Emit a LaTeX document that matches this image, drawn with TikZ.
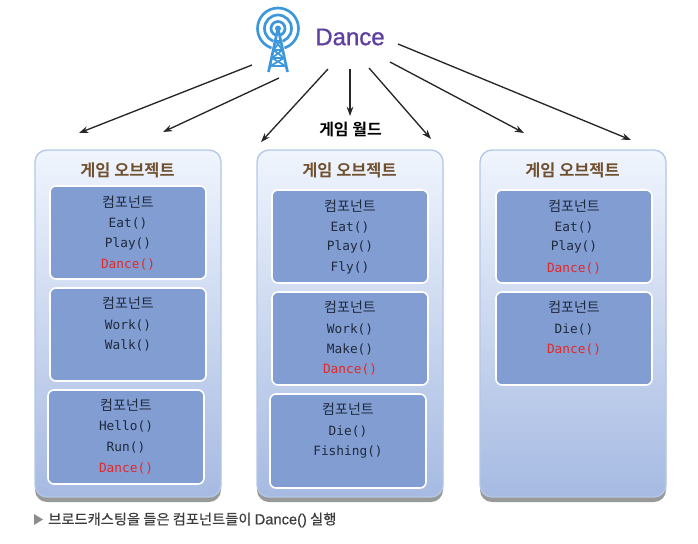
\documentclass[tikz,border=0pt]{standalone}
\usepackage{fontspec}
\setmainfont{Liberation Sans}
\newfontfamily\krfont{Noto Sans CJK KR}[BoldFont={Noto Sans CJK KR Bold}]
\newfontfamily\krmedium{Noto Sans CJK KR}[FakeBold=0.5]
\newfontfamily\latinmedium{Liberation Sans}[FakeBold=0.5]
\newfontfamily\dancefont{Liberation Sans}[FakeBold=1]
\newfontfamily\codefont{DejaVu Sans Mono}
\usetikzlibrary{arrows.meta,positioning}
\definecolor{titlebrown}{HTML}{70502F}
\definecolor{innerblue}{HTML}{819DD2}
\definecolor{outerline}{HTML}{B5C7E6}
\definecolor{outertop}{HTML}{F0F5FD}
\definecolor{outerbot}{HTML}{A6BAE2}
\definecolor{iconblue}{HTML}{3D97DC}
\definecolor{dancepurple}{HTML}{5F3F9F}
\definecolor{codedark}{HTML}{1F2A3D}
\definecolor{codered}{HTML}{E02A2A}
\definecolor{caption}{HTML}{3C3C3C}
\tikzset{
  x=0.75pt,y=-0.75pt,
  outerbox/.style={rounded corners=9pt,draw=outerline,line width=1pt,top color=outertop,bottom color=outerbot},
  shadowbox/.style={rounded corners=9pt,fill=black!40,draw=none},
  innerbox/.style={rounded corners=4.5pt,draw=white,line width=1.2pt,fill=innerblue},
  boxtitle/.style={font=\krfont\bfseries\fontsize{12.3}{14}\selectfont,text=titlebrown,inner sep=0pt},
  comphead/.style={font=\krfont\fontsize{10.5}{12}\selectfont,text=codedark,inner sep=0pt,yshift=-0.4pt},
  code/.style={font=\codefont\fontsize{9.6}{11}\selectfont,text=codedark,inner sep=0pt,yshift=-0.75pt},
  codehot/.style={code,text=codered},
  wire/.style={draw=black!85,line width=1pt,-{Stealth[length=7pt,width=5pt]}},
  ring/.style={draw=iconblue,line width=2pt},
  tower/.style={draw=iconblue,line width=1.3pt,line join=round}
}
\begin{document}
\begin{tikzpicture}
\useasboundingbox (0,0) rectangle (698,543);
% icon
\draw[ring] (278,28.5) circle (20.5);
\draw[ring] (278,28.5) circle (13.5);
\draw[ring] (278,28.5) circle (7);
\fill[white] (278,26) -- (264,74) -- (292,74) -- cycle;
\draw[tower,line width=2pt] (278,28) -- (268.5,72) (278,28) -- (287.5,72);
\draw[tower] (273.5,50) -- (282.5,50) (272,58) -- (284,58) (270.5,66) -- (285.5,66)
  (275.5,41) -- (280.5,41)
  (273.5,50) -- (284,58) (282.5,50) -- (272,58) (272,58) -- (285.5,66) (284,58) -- (270.5,66)
  (275.5,41) -- (282.5,50) (280.5,41) -- (273.5,50);
\fill[iconblue] (278,28.5) circle (3);
\node[font=\dancefont\fontsize{18}{20}\selectfont,text=dancepurple,inner sep=0pt] (dance) at (350,37) {Dance};
\node[font=\krfont\bfseries\fontsize{12}{14}\selectfont,text=black,inner sep=0pt] (world) at (350.5,129) {게임 월드};
% arrow ends
\coordinate (s1) at (252,65); \coordinate (t1) at (79,133);
\coordinate (s2) at (279,78); \coordinate (t2) at (163,132);
\coordinate (s3) at (328,69); \coordinate (t3) at (261,142);
\coordinate (s4) at (350,69); \coordinate (t4) at (350,116);
\coordinate (s5) at (369,68); \coordinate (t5) at (431,139);
\coordinate (s6) at (390,62); \coordinate (t6) at (524,133);
\coordinate (s7) at (398,44); \coordinate (t7) at (631,140);
\foreach \i in {1,...,7} \draw[wire] (s\i) -- (t\i);
% outer boxes
\foreach \x in {35,257,480}{
  \fill[shadowbox] (\x,156) rectangle (\x+186,502);
  \path[outerbox] (\x,150) rectangle (\x+186,497);
}
% column 1
\node[boxtitle] (o1) at (127.5,170) {게임 오브젝트};
\draw[innerbox] (50,186) rectangle (206,279);
\draw[innerbox] (50,288) rectangle (206,381);
\draw[innerbox] (48,390) rectangle (204,484);
\node[comphead] (a1) at (128,202) {컴포넌트};
\node[code] (a2) at (128,222) {Eat()};
\node[code] (a3) at (128,243) {Play()};
\node[codehot] (a4) at (128,263) {Dance()};
\node[comphead] (b1) at (128,303) {컴포넌트};
\node[code] (b2) at (128,324) {Work()};
\node[code] (b3) at (128,344) {Walk()};
\node[comphead] (c1) at (126,405) {컴포넌트};
\node[code] (c2) at (126,425) {Hello()};
\node[code] (c3) at (126,446) {Run()};
\node[codehot] (c4) at (126,467) {Dance()};
% column 2
\node[boxtitle] (o2) at (349.5,170) {게임 오브젝트};
\draw[innerbox] (272,190) rectangle (428,283);
\draw[innerbox] (272,292) rectangle (428,385);
\draw[innerbox] (270,394) rectangle (426,488);
\node[comphead] (d1) at (350,206) {컴포넌트};
\node[code] (d2) at (350,226) {Eat()};
\node[code] (d3) at (350,246) {Play()};
\node[code] (d4) at (350,267) {Fly()};
\node[comphead] (e1) at (350,307) {컴포넌트};
\node[code] (e2) at (350,328) {Work()};
\node[code] (e3) at (350,348) {Make()};
\node[codehot] (e4) at (350,368) {Dance()};
\node[comphead] (f1) at (348,409) {컴포넌트};
\node[code] (f2) at (348,430) {Die()};
\node[code] (f3) at (348,451) {Fishing()};
% column 3
\node[boxtitle] (o3) at (572.5,170) {게임 오브젝트};
\draw[innerbox] (496,190) rectangle (652,283);
\draw[innerbox] (496,292) rectangle (652,385);
\node[comphead] (g1) at (574,206) {컴포넌트};
\node[code] (g2) at (574,226) {Eat()};
\node[code] (g3) at (574,246) {Play()};
\node[codehot] (g4) at (574,267) {Dance()};
\node[comphead] (h1) at (574,307) {컴포넌트};
\node[code] (h2) at (574,328) {Die()};
\node[codehot] (h3) at (574,348) {Dance()};
% caption
\fill[black!45] (34,514) -- (43,519.5) -- (34,525) -- cycle;
\node[anchor=west,inner sep=0pt,text=caption,font=\krmedium\fontsize{10.7}{12}\selectfont] (cap) at (48,520) {브로드캐스팅을 들은 컴포넌트들이 {\latinmedium\fontsize{11}{12}\selectfont Dance()} 실행};
\end{tikzpicture}
\end{document}
